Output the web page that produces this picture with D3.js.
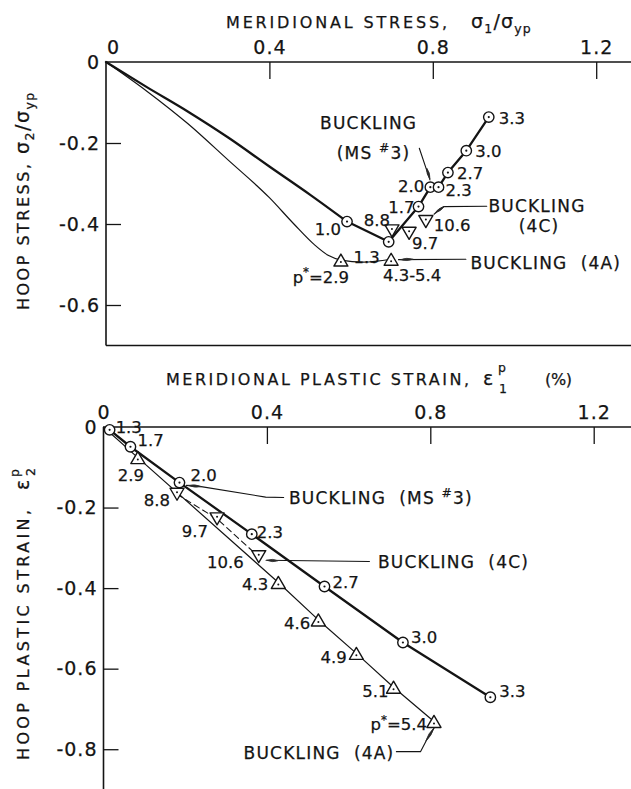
<!DOCTYPE html>
<html>
<head>
<meta charset="utf-8">
<script src="https://cdn.jsdelivr.net/npm/d3@7"></script>
<style>
  html, body { margin: 0; padding: 0; background: #fff; }
  svg { display: block; }
  text { font-family: "DejaVu Sans", "Liberation Sans", sans-serif; fill: #141414; stroke: #141414; stroke-width: 0.25px; }
</style>
</head>
<body>
<svg id="chart" width="631" height="789"></svg>
<script>
// ---------------- data ----------------
// common starting point of every loading path (unloaded shell)
const origin = [0, 0];

// Upper panel: stress paths, sigma1/sigma_yp (x) vs sigma2/sigma_yp (y)
const stressPathMS = [[0.10, -0.062], [0.20, -0.122], [0.30, -0.187], [0.40, -0.258], [0.50, -0.328]];
const stressPath4A = [[0.10, -0.072], [0.20, -0.152], [0.30, -0.243], [0.40, -0.335], [0.46, -0.400], [0.51, -0.451], [0.545, -0.478]];
const stressPath4ATail = [[0.63, -0.494]];

// shell MS #3 (circles), pressure labels
const msStressP = ["1.0", "1.3", "1.7", "2.0", "2.3", "2.7", "3.0", "3.3"];
const msStressX = [0.590, 0.692, 0.765, 0.794, 0.814, 0.837, 0.882, 0.937];
const msStressY = [-0.394, -0.444, -0.357, -0.309, -0.309, -0.273, -0.219, -0.136];

// shell 4A (triangles)
const a4StressP = ["p*=2.9", "4.3-5.4"];
const a4StressX = [0.575, 0.698];
const a4StressY = [-0.489, -0.487];

// shell 4C (inverted triangles)
const c4StressP = ["8.8", "9.7", "10.6"];
const c4StressX = [0.700, 0.742, 0.783];
const c4StressY = [-0.417, -0.423, -0.394];

// Lower panel: plastic strains (%), eps1p (x) vs eps2p (y)
const msStrainP = ["1.3", "1.7", "2.0", "2.3", "2.7", "3.0", "3.3"];
const msStrainX = [0.015, 0.066, 0.186, 0.363, 0.541, 0.733, 0.947];
const msStrainY = [-0.007, -0.049, -0.138, -0.266, -0.396, -0.535, -0.671];

const a4StrainP = ["2.9", "4.3", "4.6", "4.9", "5.1", "p*=5.4"];
const a4StrainX = [0.084, 0.428, 0.526, 0.619, 0.710, 0.809];
const a4StrainY = [-0.076, -0.386, -0.479, -0.562, -0.646, -0.731];

const c4StrainP = ["8.8", "9.7", "10.6"];
const c4StrainX = [0.180, 0.278, 0.380];
const c4StrainY = [-0.167, -0.228, -0.322];

// tick values
const xTickValues = [0, 0.4, 0.8, 1.2];
const yTickStress = [0, -0.2, -0.4, -0.6];
const yTickStrain = [0, -0.2, -0.4, -0.6, -0.8];

// ---------------- layout ----------------
const W = 631, H = 789;
const INK = "#141414";

const xS = d3.scaleLinear().domain([0, 1.2]).range([106, 596.2]);
const yS = d3.scaleLinear().domain([0, -0.7]).range([62, 345.5]);
const xE = d3.scaleLinear().domain([0, 1.2]).range([103.5, 593.7]);
const yE = d3.scaleLinear().domain([0, -0.9]).range([427, 789.5]);

// label offsets (px) from each marker: [dx, dy, anchor]
const msStressLab = [[-6, 7, "end"], [-9, 15, "end"], [-4, 0, "end"], [-6, -1, "end"], [7, 3, "start"], [9, 0, "start"], [9, 0, "start"], [10, 1, "start"]];
const a4StressLab = [[-20, 17, "middle"], [21, 16, "middle"]];
const c4StressLab = [[-2, -11, "end"], [3, 10, "start"], [8, 3, "start"]];
const msStrainLab = [[6, -3, "start"], [7, -7, "start"], [11, -8, "start"], [5, -2, "start"], [8, -4, "start"], [8, -5, "start"], [9, -6, "start"]];
const a4StrainLab = [[-7, 17, "middle"], [-10, 1.5, "end"], [-8, 3, "end"], [-9.5, 4, "end"], [-5, 4, "end"], [-7, 3, "end"]];
const c4StrainLab = [[-7, 6, "end"], [-9, 12.5, "end"], [-15, 5, "end"]];

// buckling call-outs (positions in each panel's data units)
const stressNotes = [
  { lines: [["BUCKLING", 0.643, -0.151], ["(MS #3)", 0.655, -0.225]], anchor: "middle",
    leader: [[0.767, -0.213], [0.793, -0.291]], blob: [[0.785, -0.262], [0.793, -0.289]] },
  { lines: [["BUCKLING", 1.055, -0.356], ["(4C)", 1.060, -0.405]], anchor: "middle",
    leader: [[0.932, -0.356], [0.826, -0.357], [0.803, -0.376]], blob: [[0.828, -0.357], [0.806, -0.372]] },
  { lines: [["BUCKLING  (4A)", 0.892, -0.495]], anchor: "start",
    leader: [[0.881, -0.487], [0.716, -0.488]], blob: [[0.752, -0.487], [0.721, -0.488]] }
];
const strainNotes = [
  { lines: [["BUCKLING  (MS #3)", 0.454, -0.175]], anchor: "start",
    leader: [[0.441, -0.175], [0.397, -0.174], [0.239, -0.148], [0.203, -0.145]], blob: [[0.240, -0.148], [0.207, -0.145]] },
  { lines: [["BUCKLING  (4C)", 0.672, -0.334]], anchor: "start",
    leader: [[0.651, -0.334], [0.398, -0.331]], blob: [[0.427, -0.332], [0.400, -0.331]] },
  { lines: [["BUCKLING  (4A)", 0.343, -0.808]], anchor: "start",
    leader: [[0.717, -0.806], [0.776, -0.806], [0.791, -0.777], [0.810, -0.746]], blob: [[0.789, -0.780], [0.809, -0.747]] }
];

// ---------------- drawing ----------------
const svg = d3.select("#chart");
svg.append("rect").attr("width", W).attr("height", H).attr("fill", "#fff");

const fmt = d => d === 0 ? "0" : d3.format(".1f")(d).replace("\u2212", "-");

function drawFrame(x, y, yTicks, zeroShift, bottomLine) {
  const g = svg.append("g");
  g.append("line").attr("x1", x(0)).attr("x2", W).attr("y1", y(0)).attr("y2", y(0))
    .attr("stroke", INK).attr("stroke-width", 1.6);
  g.append("line").attr("x1", x(0)).attr("x2", x(0)).attr("y1", y(0)).attr("y2", y.range()[1])
    .attr("stroke", INK).attr("stroke-width", 1.6);
  if (bottomLine) {
    g.append("line").attr("x1", x(0)).attr("x2", W).attr("y1", y.range()[1]).attr("y2", y.range()[1])
      .attr("stroke", INK).attr("stroke-width", 1.6);
  }
  const ax = g.append("g").attr("transform", `translate(0,${y(0)})`)
    .call(d3.axisTop(x).tickValues(xTickValues).tickSizeInner(-17).tickSizeOuter(0).tickPadding(8).tickFormat(fmt));
  const ay = g.append("g").attr("transform", `translate(${x(0)},0)`)
    .call(d3.axisLeft(y).tickValues(yTicks).tickSizeInner(-15).tickSizeOuter(0).tickPadding(6).tickFormat(fmt));
  [ax, ay].forEach(a => {
    a.attr("font-family", null).attr("font-size", null);
    a.select(".domain").remove();
    a.selectAll("line").attr("stroke", INK).attr("stroke-width", 1.3);
    a.selectAll("text").attr("font-size", 19).attr("letter-spacing", 1).attr("fill", INK);
  });
  ax.selectAll(".tick").filter(d => d === 0).select("line").remove();
  ax.selectAll(".tick").filter(d => d === 0).select("text").attr("x", zeroShift);
  ay.selectAll(".tick").filter(d => d === 0).select("line").remove();
  return g;
}

drawFrame(xS, yS, yTickStress, 7, true);
drawFrame(xE, yE, yTickStrain, 0, false);

// rich text: '#' and '*' are set as raised small characters
function richText(el, str, fs) {
  const parts = str.split(/([#*])/).filter(s => s.length);
  let raised = 0;
  parts.forEach(p => {
    const t = el.append("tspan");
    if (p === "#" || p === "*") {
      t.attr("font-size", fs * 0.72).attr("dy", -fs * 0.4);
      raised = fs * 0.4;
    } else if (raised) {
      t.attr("dy", raised);
      raised = 0;
    }
    t.text(p);
  });
}

const zip = (xs, ys) => xs.map((v, i) => [v, ys[i]]);

function pathLine(x, y, pts, curve, width, dash) {
  svg.append("path")
    .attr("d", d3.line().x(d => x(d[0])).y(d => y(d[1])).curve(curve)(pts))
    .attr("fill", "none").attr("stroke", INK).attr("stroke-width", width)
    .attr("stroke-linejoin", "round").attr("stroke-linecap", "round")
    .attr("stroke-dasharray", dash || null);
}

function markers(x, y, xs, ys, kind) {
  const g = svg.append("g");
  xs.forEach((vx, i) => {
    const cx = x(vx), cy = y(ys[i]);
    if (kind === "circle") {
      g.append("circle").attr("cx", cx).attr("cy", cy).attr("r", 5.2)
        .attr("fill", "#fff").attr("stroke", INK).attr("stroke-width", 1.4);
      g.append("circle").attr("cx", cx).attr("cy", cy).attr("r", 1.1).attr("fill", INK);
    } else {
      const up = kind === "up";
      const hw = 7, hh = 6, s = up ? 1 : -1;
      const pts = [[cx, cy - s * hh], [cx + hw, cy + s * hh], [cx - hw, cy + s * hh]];
      g.append("path").attr("d", "M" + pts.map(p => p.join(",")).join("L") + "Z")
        .attr("fill", "#fff").attr("stroke", INK).attr("stroke-width", 1.4).attr("stroke-linejoin", "round");
      g.append("circle").attr("cx", cx).attr("cy", cy + s * 2).attr("r", 1).attr("fill", INK);
    }
  });
}

function pointLabels(x, y, xs, ys, labels, offs) {
  const fs = 16.5;
  xs.forEach((vx, i) => {
    const [dx, dy, anchor] = offs[i];
    const t = svg.append("text")
      .attr("x", x(vx) + dx).attr("y", y(ys[i]) + dy + fs * 0.36)
      .attr("text-anchor", anchor).attr("font-size", fs);
    richText(t, labels[i], fs);
  });
}

function notes(x, y, list) {
  const fs = 17;
  list.forEach(n => {
    pathLine(x, y, n.leader, d3.curveLinear, 1.1);
    // feathered arrow head drawn as a dark spindle along the leader
    const a = [x(n.blob[0][0]), y(n.blob[0][1])], b = [x(n.blob[1][0]), y(n.blob[1][1])];
    const len = Math.hypot(b[0] - a[0], b[1] - a[1]);
    const ux = (b[0] - a[0]) / len, uy = (b[1] - a[1]) / len, nx = -uy * 2.2, ny = ux * 2.2;
    const m = [(a[0] + b[0]) / 2, (a[1] + b[1]) / 2];
    svg.append("path")
      .attr("d", `M${a[0]},${a[1]} Q${m[0] + nx},${m[1] + ny} ${b[0]},${b[1]} Q${m[0] - nx},${m[1] - ny} ${a[0]},${a[1]}Z`)
      .attr("fill", "#2a2a2a").attr("stroke", "#2a2a2a").attr("stroke-width", 0.8);
    n.lines.forEach(([str, vx, vy]) => {
      const t = svg.append("text").attr("x", x(vx)).attr("y", y(vy) + fs * 0.36)
        .attr("text-anchor", n.anchor).attr("font-size", fs)
        .attr("letter-spacing", 1.2).style("white-space", "pre");
      richText(t, str, fs);
    });
  });
}

// ----- upper panel -----
pathLine(xS, yS, [origin, ...stressPathMS, [msStressX[0], msStressY[0]]], d3.curveMonotoneX, 2.3);
pathLine(xS, yS, zip(msStressX, msStressY), d3.curveLinear, 2.3);
pathLine(xS, yS, [origin, ...stressPath4A, [a4StressX[0], a4StressY[0]], ...stressPath4ATail, [a4StressX[1], a4StressY[1]]],
  d3.curveMonotoneX, 1.2);
notes(xS, yS, stressNotes);
markers(xS, yS, msStressX, msStressY, "circle");
markers(xS, yS, a4StressX, a4StressY, "up");
markers(xS, yS, c4StressX, c4StressY, "down");
pointLabels(xS, yS, msStressX, msStressY, msStressP, msStressLab);
pointLabels(xS, yS, a4StressX, a4StressY, a4StressP, a4StressLab);
pointLabels(xS, yS, c4StressX, c4StressY, c4StressP, c4StressLab);

// ----- lower panel -----
pathLine(xE, yE, zip(msStrainX, msStrainY), d3.curveLinear, 2.3);
pathLine(xE, yE, [origin, ...zip(a4StrainX, a4StrainY)], d3.curveLinear, 1.2);
pathLine(xE, yE, zip(c4StrainX, c4StrainY), d3.curveLinear, 1.1, "6,4");
notes(xE, yE, strainNotes);
markers(xE, yE, msStrainX, msStrainY, "circle");
markers(xE, yE, a4StrainX, a4StrainY, "up");
markers(xE, yE, c4StrainX, c4StrainY, "down");
pointLabels(xE, yE, msStrainX, msStrainY, msStrainP, msStrainLab);
pointLabels(xE, yE, a4StrainX, a4StrainY, a4StrainP, a4StrainLab);
pointLabels(xE, yE, c4StrainX, c4StrainY, c4StrainP, c4StrainLab);

// ----- axis titles -----
function sigmaPart(t, sub1) {
  t.append("tspan").attr("font-size", 19).text("\u03c3");
  t.append("tspan").attr("font-size", 12.5).attr("dy", 5).text(sub1);
  t.append("tspan").attr("font-size", 19).attr("dy", -5).text("/\u03c3");
  t.append("tspan").attr("font-size", 12.5).attr("dy", 5).text("yp");
}

// top x title
svg.append("text").attr("x", 226).attr("y", 28).attr("font-size", 16)
  .attr("textLength", 221).attr("lengthAdjust", "spacing").text("MERIDIONAL STRESS,");
sigmaPart(svg.append("text").attr("x", 471).attr("y", 28).attr("letter-spacing", 1.2), "1");

// lower x title
svg.append("text").attr("x", 166).attr("y", 385).attr("font-size", 16)
  .attr("textLength", 303).attr("lengthAdjust", "spacing").text("MERIDIONAL PLASTIC STRAIN,");
svg.append("text").attr("x", 483).attr("y", 385).attr("font-size", 19).text("\u03b5");
svg.append("text").attr("x", 498).attr("y", 372).attr("font-size", 12.5).text("p");
svg.append("text").attr("x", 499).attr("y", 393).attr("font-size", 12.5).text("1");
svg.append("text").attr("x", 545).attr("y", 385).attr("font-size", 16)
  .attr("textLength", 27).attr("lengthAdjust", "spacing").text("(%)");

// top y title
const ty = svg.append("g").attr("transform", "translate(29,310) rotate(-90)");
ty.append("text").attr("x", 0).attr("y", 0).attr("font-size", 16)
  .attr("textLength", 146).attr("lengthAdjust", "spacing").text("HOOP STRESS,");
sigmaPart(ty.append("text").attr("x", 156).attr("y", 0).attr("letter-spacing", 1.5), "2");

// lower y title
const by = svg.append("g").attr("transform", "translate(29,760) rotate(-90)");
by.append("text").attr("x", 0).attr("y", 0).attr("font-size", 16)
  .attr("textLength", 250).attr("lengthAdjust", "spacing").text("HOOP PLASTIC STRAIN,");
by.append("text").attr("x", 270).attr("y", 0).attr("font-size", 19).text("\u03b5");
by.append("text").attr("x", 283).attr("y", -10).attr("font-size", 12.5).text("p");
by.append("text").attr("x", 284).attr("y", 6).attr("font-size", 12.5).text("2");
</script>
</body>
</html>
